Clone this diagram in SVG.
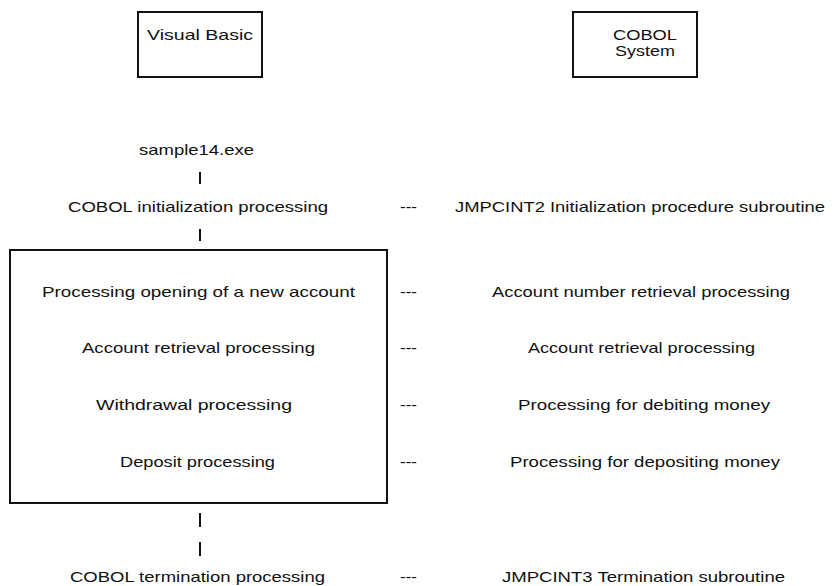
<svg xmlns="http://www.w3.org/2000/svg" width="834" height="586" viewBox="0 0 834 586">
<style>
text{font-family:"Liberation Sans",Arial,sans-serif;font-size:15px;fill:#111}
.box{fill:#fff;stroke:#111;stroke-width:2}
.bar{stroke:#111;stroke-width:2}
</style>
<rect width="834" height="586" fill="#fff"/>
<g id="vb">
<rect class="box" x="138" y="12" width="124" height="65"/>
<text x="147" y="40" textLength="106" lengthAdjust="spacingAndGlyphs">Visual Basic</text>
</g>
<g id="cobol">
<rect class="box" x="573" y="12" width="124" height="65"/>
<text x="613" y="40" textLength="64" lengthAdjust="spacingAndGlyphs">COBOL</text>
<text x="615" y="56" textLength="60" lengthAdjust="spacingAndGlyphs">System</text>
</g>
<g id="exe"><text x="139" y="155" textLength="115" lengthAdjust="spacingAndGlyphs">sample14.exe</text></g>
<g id="init">
<text x="68" y="212" textLength="260" lengthAdjust="spacingAndGlyphs">COBOL initialization processing</text>
<text x="400" y="212" textLength="17" lengthAdjust="spacingAndGlyphs">---</text>
<text x="455" y="212" textLength="370" lengthAdjust="spacingAndGlyphs">JMPCINT2 Initialization procedure subroutine</text>
</g>
<g id="main">
<rect class="box" x="10" y="250" width="377" height="253"/>
<text x="42" y="297" textLength="313" lengthAdjust="spacingAndGlyphs">Processing opening of a new account</text>
<text x="82" y="353" textLength="233" lengthAdjust="spacingAndGlyphs">Account retrieval processing</text>
<text x="96" y="410" textLength="196" lengthAdjust="spacingAndGlyphs">Withdrawal processing</text>
<text x="120" y="467" textLength="155" lengthAdjust="spacingAndGlyphs">Deposit processing</text>
</g>
<g id="sub">
<text x="400" y="297" textLength="17" lengthAdjust="spacingAndGlyphs">---</text>
<text x="492" y="297" textLength="298" lengthAdjust="spacingAndGlyphs">Account number retrieval processing</text>
<text x="400" y="353" textLength="17" lengthAdjust="spacingAndGlyphs">---</text>
<text x="528" y="353" textLength="227" lengthAdjust="spacingAndGlyphs">Account retrieval processing</text>
<text x="400" y="410" textLength="17" lengthAdjust="spacingAndGlyphs">---</text>
<text x="518" y="410" textLength="252" lengthAdjust="spacingAndGlyphs">Processing for debiting money</text>
<text x="400" y="467" textLength="17" lengthAdjust="spacingAndGlyphs">---</text>
<text x="510" y="467" textLength="270" lengthAdjust="spacingAndGlyphs">Processing for depositing money</text>
</g>
<g id="term">
<text x="70" y="582" textLength="255" lengthAdjust="spacingAndGlyphs">COBOL termination processing</text>
<text x="400" y="582" textLength="17" lengthAdjust="spacingAndGlyphs">---</text>
<text x="502" y="582" textLength="283" lengthAdjust="spacingAndGlyphs">JMPCINT3 Termination subroutine</text>
</g>
<g id="connectors">
<line class="bar" x1="200" y1="172" x2="200" y2="184"/>
<line class="bar" x1="200" y1="229" x2="200" y2="241"/>
<line class="bar" x1="200" y1="513" x2="200" y2="527"/>
<line class="bar" x1="200" y1="542" x2="200" y2="556"/>
</g>
</svg>
